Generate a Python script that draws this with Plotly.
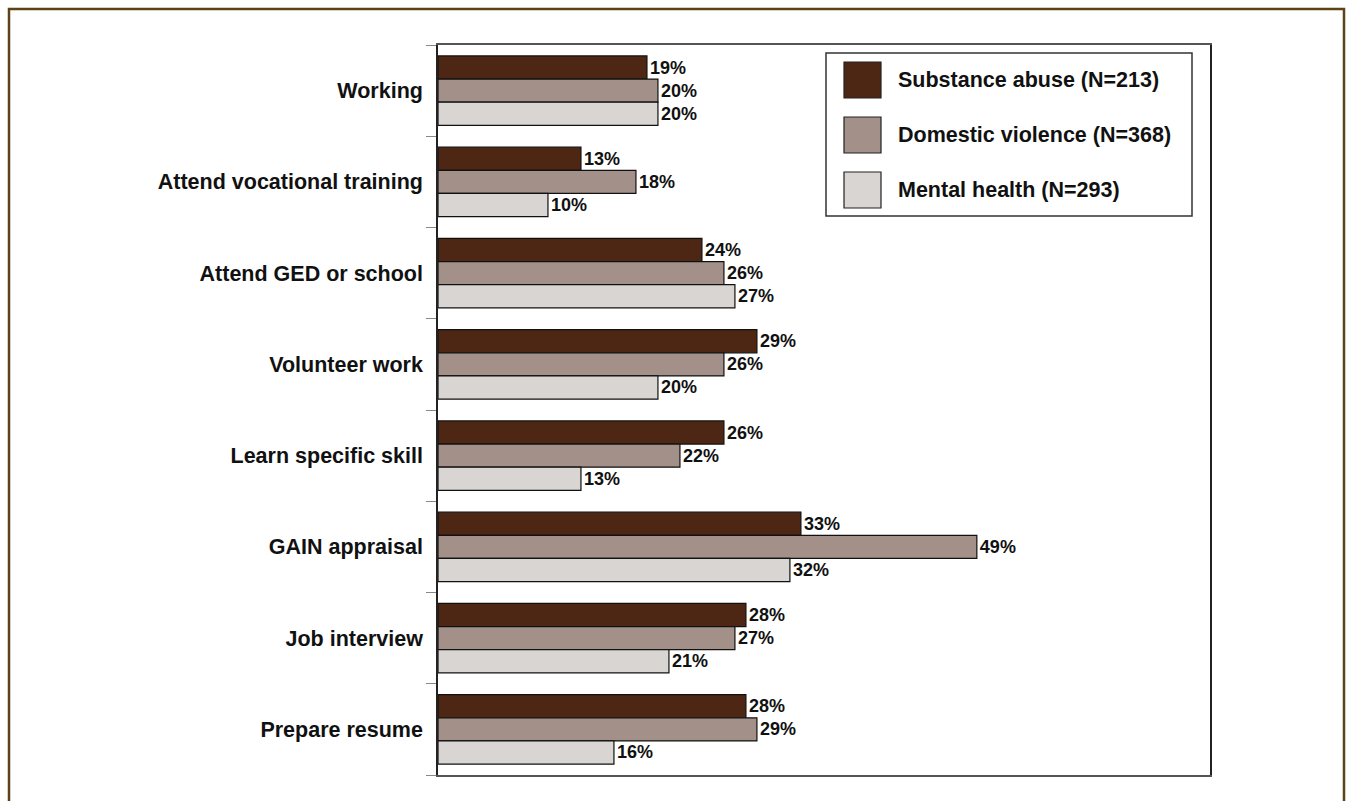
import plotly.graph_objects as go

# Activities, top to bottom
categories = [
    "Working",
    "Attend vocational training",
    "Attend GED or school",
    "Volunteer work",
    "Learn specific skill",
    "GAIN appraisal",
    "Job interview",
    "Prepare resume",
]

series_names = [
    "Substance abuse (N=213)",
    "Domestic violence (N=368)",
    "Mental health (N=293)",
]

substance_abuse = [19, 13, 24, 29, 26, 33, 28, 28]
domestic_violence = [20, 18, 26, 26, 22, 49, 27, 29]
mental_health = [20, 10, 27, 20, 13, 32, 21, 16]

series_values = [substance_abuse, domestic_violence, mental_health]
colors = ["#4e2614", "#a39089", "#d9d5d2"]

W, H = 1351, 801
ML, MR, MT, MB = 438, 141, 45, 26
PW, PH = W - ML - MR, H - MT - MB

FONT = "Liberation Sans, Arial, Helvetica, sans-serif"


def px_x(x):
    return (x - ML) / PW


def px_y(y):
    return (H - MB - y) / PH


fig = go.Figure()
for name, vals, col in zip(series_names, series_values, colors):
    fig.add_trace(go.Bar(
        y=categories,
        x=vals,
        name=name,
        orientation="h",
        marker=dict(color=col, line=dict(color="#111111", width=1.2)),
        text=[f"<b>{v}%</b>" for v in vals],
        textposition="outside",
        textfont=dict(family=FONT, size=18, color="#111111"),
        cliponaxis=False,
        showlegend=False,
    ))

shapes = []
annotations = []

# Outer frame around the whole figure
shapes.append(dict(
    type="rect", xref="paper", yref="paper",
    x0=px_x(9), x1=px_x(1344), y0=px_y(812), y1=px_y(9),
    line=dict(color="#5b4217", width=2.5), fillcolor="rgba(0,0,0,0)", layer="above",
))

# Legend box with large swatches
shapes.append(dict(
    type="rect", xref="paper", yref="paper",
    x0=px_x(826), x1=px_x(1192), y0=px_y(216), y1=px_y(53),
    line=dict(color="#333333", width=1.5), fillcolor="white", layer="above",
))
row_centers = [80, 135, 190]
for name, col, cy in zip(series_names, colors, row_centers):
    shapes.append(dict(
        type="rect", xref="paper", yref="paper",
        x0=px_x(844), x1=px_x(881), y0=px_y(cy + 18), y1=px_y(cy - 18),
        line=dict(color="#222222", width=1.2), fillcolor=col, layer="above",
    ))
    annotations.append(dict(
        xref="paper", yref="paper", x=px_x(896), y=px_y(cy),
        xanchor="left", yanchor="middle", showarrow=False,
        text=f"<b>{name}</b>",
        font=dict(family=FONT, size=21.5, color="#111111"),
    ))

fig.update_layout(
    width=W, height=H,
    margin=dict(l=ML, r=MR, t=MT, b=MB),
    paper_bgcolor="white",
    plot_bgcolor="white",
    barmode="group",
    bargap=0.24,
    bargroupgap=0.0,
    shapes=shapes,
    annotations=annotations,
    xaxis=dict(
        range=[0, 70.2],
        showgrid=False, zeroline=False,
        showticklabels=False, ticks="",
        showline=True, linecolor="#555555", linewidth=1.5, mirror=True,
    ),
    yaxis=dict(
        autorange="reversed",
        showgrid=False, zeroline=False,
        ticks="outside", tickson="boundaries", ticklen=10,
        tickcolor="#888888", tickwidth=1.2,
        showline=True, linecolor="#222222", linewidth=1.5, mirror=True,
        tickfont=dict(family=FONT, size=21.5, color="#111111"),
        ticklabelstandoff=9,
    ),
)
fig.update_yaxes(ticktext=[f"<b>{c}</b>" for c in categories], tickvals=categories)

fig.write_html("out.html")
